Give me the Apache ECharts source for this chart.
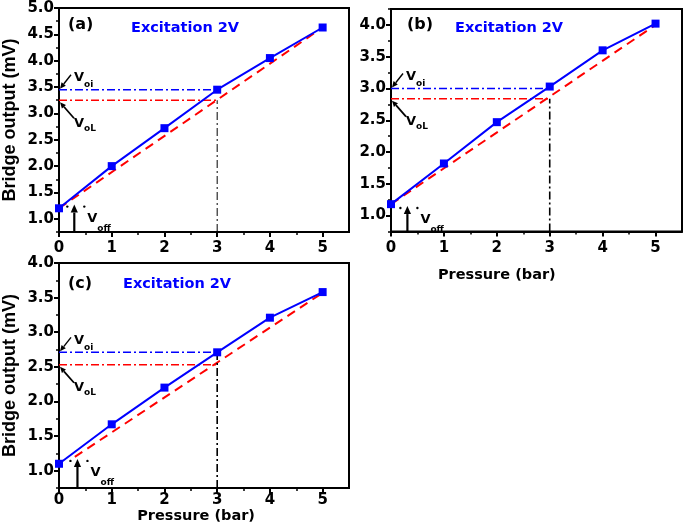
<!DOCTYPE html>
<html><head><meta charset="utf-8">
<script src="https://cdn.jsdelivr.net/npm/echarts@6/dist/echarts.min.js"></script>
<style>html,body{margin:0;padding:0;background:#fff}#c{width:685px;height:525px}</style>
</head><body><div id="c"></div>
<script>
// ---- data ----
const pressure = [0, 1, 2, 3, 4, 5];
const outputA = [1.2, 2.0, 2.72, 3.45, 4.05, 4.63];
const outputB = [1.18, 1.82, 2.47, 3.03, 3.6, 4.02];
const outputC = [1.1, 1.67, 2.2, 2.71, 3.21, 3.58];
const fitAx = [0, 5], fitAy = [1.2, 4.63];
const fitBx = [0, 5], fitBy = [1.18, 4.0];
const fitCx = [0.3, 5], fitCy = [1.2, 3.57];
const voiVals = [3.45, 3.0, 2.71];
const volVals = [3.25, 2.84, 2.53];
const markPressure = 3;
const verticalTop = [3.25, 2.84, 2.71];
const voffArrowX = [0.29, 0.31, 0.35];
const voffArrowTip = [1.27, 1.15, 1.17];
const panelLabels = ['(a)', '(b)', '(c)'];
const titleText = 'Excitation 2V';
const xTicks = [0, 1, 2, 3, 4, 5];
const xMinorTicks = [0.5, 1.5, 2.5, 3.5, 4.5];
const yTicksA = [1.0, 1.5, 2.0, 2.5, 3.0, 3.5, 4.0, 4.5, 5.0];
const yMinorA = [0.75, 1.25, 1.75, 2.25, 2.75, 3.25, 3.75, 4.25, 4.75];
const yTicksB = [1.0, 1.5, 2.0, 2.5, 3.0, 3.5, 4.0];
const yMinorB = [0.75, 1.25, 1.75, 2.25, 2.75, 3.25, 3.75, 4.25];
const yTicksC = [1.0, 1.5, 2.0, 2.5, 3.0, 3.5, 4.0];
const yMinorC = [0.75, 1.25, 1.75, 2.25, 2.75, 3.25, 3.75];
const yRanges = [[0.75, 5.0], [0.75, 4.25], [0.75, 4.0]];
const xRange = [0, 5.5];

// ---- chart ----
const chart = echarts.init(document.getElementById('c'), null, {renderer: 'canvas'});
const outputs = [outputA, outputB, outputC];
const fitsX = [fitAx, fitBx, fitCx], fitsY = [fitAy, fitBy, fitCy];
const yTicks = [yTicksA, yTicksB, yTicksC], yMinor = [yMinorA, yMinorB, yMinorC];
const grids = [
  {left: 58, top: 8, width: 291, height: 224},
  {left: 391, top: 9, width: 291, height: 222.5},
  {left: 58, top: 263, width: 291, height: 225}
].map(g => Object.assign({show: true, borderColor: '#000', borderWidth: 2, backgroundColor: 'transparent'}, g));

const tickFont = {fontFamily: 'DejaVu Sans', fontWeight: 'bold', fontSize: 15, color: '#000'};
const xAxes = [], yAxes = [], series = [];
for (let i = 0; i < 3; i++) {
  xAxes.push({
    gridIndex: i, type: 'value', min: xRange[0], max: xRange[1], position: 'bottom',
    axisLine: {show: true, onZero: false, lineStyle: {color: '#000', width: 2}},
    axisTick: {show: true, customValues: xTicks, length: 5, lineStyle: {color: '#000', width: 2}},
    axisLabel: Object.assign({customValues: xTicks, margin: i === 2 ? 5 : 9}, tickFont),
    splitLine: {show: false}
  });
  xAxes.push({
    gridIndex: i, type: 'value', min: xRange[0], max: xRange[1], position: 'bottom',
    axisLine: {show: false},
    axisTick: {show: true, customValues: xMinorTicks, length: 3, lineStyle: {color: '#000', width: 1.5}},
    axisLabel: {show: false}, splitLine: {show: false}
  });
  yAxes.push({
    gridIndex: i, type: 'value', min: yRanges[i][0], max: yRanges[i][1], position: 'left',
    axisLine: {show: true, onZero: false, lineStyle: {color: '#000', width: 2}},
    axisTick: {show: true, customValues: yTicks[i], length: 5, lineStyle: {color: '#000', width: 2}},
    axisLabel: Object.assign({customValues: yTicks[i], margin: 5, formatter: v => v.toFixed(1)}, tickFont),
    splitLine: {show: false},
    name: i === 1 ? '' : 'Bridge output (mV)', nameLocation: 'middle', nameGap: 40,
    nameTextStyle: {fontFamily: 'Liberation Sans', fontWeight: 'bold', fontSize: 18, color: '#000'}
  });
  yAxes.push({
    gridIndex: i, type: 'value', min: yRanges[i][0], max: yRanges[i][1], position: 'left',
    axisLine: {show: false},
    axisTick: {show: true, customValues: yMinor[i], length: 3, lineStyle: {color: '#000', width: 1.5}},
    axisLabel: {show: false}, splitLine: {show: false}
  });
  const xi = 2 * i, yi = 2 * i;
  series.push({
    type: 'line', xAxisIndex: xi, yAxisIndex: yi, z: 3,
    data: pressure.map((p, k) => [p, outputs[i][k]]),
    symbol: 'rect', symbolSize: 8, itemStyle: {color: '#0000ff'},
    lineStyle: {color: '#0000ff', width: 2}
  });
  series.push({
    type: 'line', xAxisIndex: xi, yAxisIndex: yi, z: 2,
    data: fitsX[i].map((p, k) => [p, fitsY[i][k]]), symbol: 'none',
    lineStyle: {color: '#ff0000', width: 2, type: [9, 6]}
  });
  series.push({
    type: 'line', xAxisIndex: xi, yAxisIndex: yi, z: 2,
    data: [[xRange[0], voiVals[i]], [markPressure, voiVals[i]]], symbol: 'none',
    lineStyle: {color: '#0000ff', width: 1.5, type: [8, 3, 2, 3]}
  });
  series.push({
    type: 'line', xAxisIndex: xi, yAxisIndex: yi, z: 2,
    data: [[xRange[0], volVals[i]], [markPressure, volVals[i]]], symbol: 'none',
    lineStyle: {color: '#ff0000', width: 1.5, type: [8, 3, 2, 3]}
  });
  series.push({
    type: 'line', xAxisIndex: xi, yAxisIndex: yi, z: 2,
    data: [[markPressure, yRanges[i][0]], [markPressure, verticalTop[i]]], symbol: 'none',
    lineStyle: {color: '#000', width: i === 0 ? 1 : 1.6, type: [8, 3, 2, 3]}
  });
}

chart.setOption({
  animation: false,
  backgroundColor: '#fff',
  grid: grids, xAxis: xAxes, yAxis: yAxes, series: series
});

// ---- annotations ----
function px(i, x, y) { return chart.convertToPixel({gridIndex: i}, [x, y]); }
function arrow(x1, y1, x2, y2, w, head) {
  const dx = x2 - x1, dy = y2 - y1, L = Math.hypot(dx, dy), ux = dx / L, uy = dy / L;
  const bx = x2 - ux * head, by = y2 - uy * head, nx = -uy, ny = ux, hw = head * 0.45;
  return [
    {type: 'line', silent: true, z: 10, shape: {x1: x1, y1: y1, x2: bx, y2: by}, style: {stroke: '#000', lineWidth: w}},
    {type: 'polygon', silent: true, z: 10, shape: {points: [[x2, y2], [bx + nx * hw, by + ny * hw], [bx - nx * hw, by - ny * hw]]}, style: {fill: '#000'}}
  ];
}
function txt(text, x, y, size, color, align) {
  return {type: 'text', silent: true, z: 10, x: x, y: y,
    style: {text: text, fill: color || '#000', font: 'bold ' + size + 'px "DejaVu Sans"',
      textAlign: align || 'left', textVerticalAlign: 'middle'}};
}
const headerPos = [[10, 17, 73, 20], [16, 16, 64, 19], [10, 21, 65, 21]];
const gfx = [];
for (let i = 0; i < 3; i++) {
  const g = grids[i];
  const h = headerPos[i];
  gfx.push(txt(panelLabels[i], g.left + h[0], g.top + h[1], 16, '#000'));
  gfx.push(txt(titleText, g.left + h[2], g.top + h[3], 14.5, '#0000ff'));
  // V_oi
  const a = px(i, 0, voiVals[i]);
  gfx.push(...arrow(a[0] + 12, a[1] - 15, a[0] + 1, a[1] - 1, 1.4, 6));
  gfx.push(txt('V', a[0] + 15, a[1] - 12, 13));
  gfx.push(txt('oi', a[0] + 25, a[1] - 5, 9));
  // V_oL
  const b = px(i, 0, volVals[i]);
  gfx.push(...arrow(a[0] + 15, b[1] + 18, b[0] + 1, b[1] + 2, 1.8, 6));
  gfx.push(txt('V', b[0] + 15, b[1] + 23, 13));
  gfx.push(txt('oL', b[0] + 25, b[1] + 28, 9));
  // V_off
  const t = px(i, voffArrowX[i], voffArrowTip[i]);
  const base = px(i, voffArrowX[i], yRanges[i][0]);
  gfx.push(...arrow(base[0], base[1], t[0], t[1], 2.2, 8));
  gfx.push({type: 'circle', silent: true, z: 10, shape: {cx: t[0] - 7, cy: t[1] + 2, r: 1.2}, style: {fill: '#000'}});
  gfx.push({type: 'circle', silent: true, z: 10, shape: {cx: t[0] + 10, cy: t[1] + 2, r: 1.2}, style: {fill: '#000'}});
  gfx.push(txt('V', t[0] + 13, t[1] + 14, 13));
  gfx.push(txt('off', t[0] + 23, t[1] + 24, 9));
}
// x-axis titles for (b) and (c)
const nb = px(1, 2.0, yRanges[1][0]);
gfx.push(txt('Pressure (bar)', nb[0], nb[1] + 44, 14.5, '#000', 'center'));
const nc = px(2, 2.6, yRanges[2][0]);
gfx.push(txt('Pressure (bar)', nc[0], nc[1] + 28, 14.5, '#000', 'center'));
chart.setOption({graphic: gfx});
</script>
</body></html>
